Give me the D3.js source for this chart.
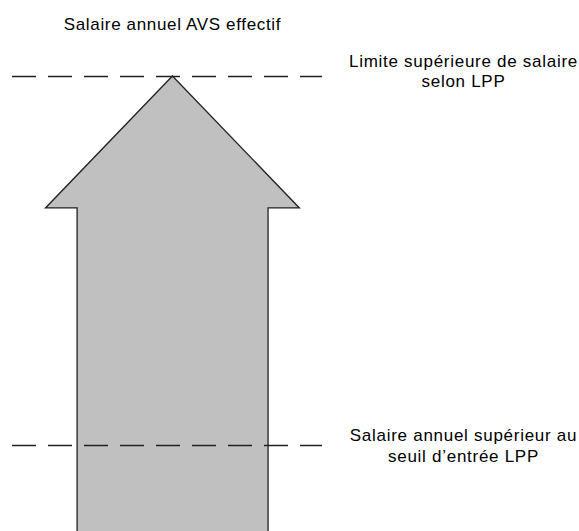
<!DOCTYPE html>
<html>
<head>
<meta charset="utf-8">
<script src="https://cdn.jsdelivr.net/npm/d3@7"></script>
<style>
  body { margin: 0; background: #fff; }
  text { font-family: "Liberation Sans", Arial, sans-serif; fill: #000; }
</style>
</head>
<body>
<script>
// conceptual salary scale (0 = bottom of picture, 1 = upper LPP limit)
var title = "Salaire annuel AVS effectif";
var levelNames = ["upper", "entry"];
var levelValues = [1.0, 0.189];
var levelLabels = [
    ["Limite supérieure de salaire", "selon LPP"],
    ["Salaire annuel supérieur au", "seuil d\u2019entrée LPP"]
];
// arrow: head base level, head and shaft widths (in x units 0..1)
var arrowHeadBase = 0.71;
var arrowHeadX = [0.108, 0.927];
var arrowShaftX = [0.210, 0.826];

var w = 579, h = 531;

var svg = d3.select("body").append("svg")
    .attr("width", w)
    .attr("height", h);

// y: salary level -> pixel, x: unit -> pixel for the left drawing area
var y = d3.scaleLinear().domain([0, 1]).range([531, 76]);
var x = d3.scaleLinear().domain([0, 1]).range([12, 322]);

// the big grey arrow
var tipX = (arrowHeadX[0] + arrowHeadX[1]) / 2;
var arrowPts = [
    [x(arrowShaftX[0]), y(-0.02)],
    [x(arrowShaftX[0]), y(arrowHeadBase)],
    [x(arrowHeadX[0]), y(arrowHeadBase)],
    [x(tipX), y(1.0)],
    [x(arrowHeadX[1]), y(arrowHeadBase)],
    [x(arrowShaftX[1]), y(arrowHeadBase)],
    [x(arrowShaftX[1]), y(-0.02)]
];
svg.append("path")
    .attr("d", d3.line()(arrowPts))
    .style("fill", "#c0c0c0")
    .style("stroke", "#222")
    .style("stroke-width", 1.3)
    .style("stroke-linejoin", "miter");

// dashed level lines, drawn over the arrow
svg.selectAll(".level")
    .data(levelValues)
    .enter().append("line")
    .attr("class", "level")
    .attr("x1", x(0))
    .attr("x2", x(1))
    .attr("y1", function(d) { return Math.round(y(d)) + 0.5; })
    .attr("y2", function(d) { return Math.round(y(d)) + 0.5; })
    .style("stroke", "#222")
    .style("stroke-width", 1.3)
    .style("stroke-dasharray", "24,12");

// title above the arrow
svg.append("text")
    .attr("x", x(tipX))
    .attr("y", 29.5)
    .attr("text-anchor", "middle")
    .style("font-size", "17px")
    .style("letter-spacing", "0.65px")
    .text(title);

// labels for the level lines (baseline offset from the line differs)
var labelShift = [-9.5, -4];
levelLabels.forEach(function(lines, i) {
    var t = svg.append("text")
        .attr("x", 463.5)
        .attr("y", y(levelValues[i]) + labelShift[i])
        .attr("text-anchor", "middle")
        .style("font-size", "17px")
        .style("letter-spacing", "0.72px");
    lines.forEach(function(s, j) {
        t.append("tspan")
            .attr("x", 463.5)
            .attr("dy", j == 0 ? 0 : 20.5)
            .text(s);
    });
});
</script>
</body>
</html>
